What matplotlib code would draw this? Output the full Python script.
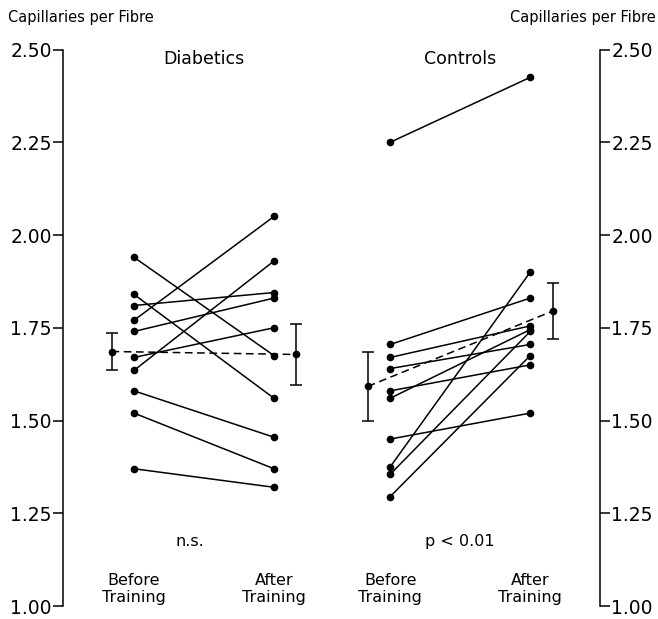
import matplotlib
matplotlib.use("Agg")
import matplotlib.pyplot as plt

# individual subjects, before -> after training
diab_before = [1.94, 1.84, 1.81, 1.77, 1.74, 1.67, 1.635, 1.58, 1.52, 1.37]
diab_after = [1.675, 1.56, 1.845, 2.05, 1.83, 1.75, 1.93, 1.455, 1.37, 1.32]
ctrl_before = [2.25, 1.705, 1.67, 1.64, 1.58, 1.56, 1.45, 1.375, 1.355, 1.295]
ctrl_after = [2.425, 1.83, 1.755, 1.705, 1.65, 1.745, 1.52, 1.90, 1.74, 1.675]

# group means with error bars (before, after)
diab_mean = [1.686, 1.678]
diab_err = [0.05, 0.082]
ctrl_mean = [1.592, 1.795]
ctrl_err = [0.094, 0.075]

yticks = [1.00, 1.25, 1.50, 1.75, 2.00, 2.25, 2.50]
ytick_labels = ["1.00", "1.25", "1.50", "1.75", "2.00", "2.25", "2.50"]

# column positions
xd = [0.0, 1.0]
xc = [1.83, 2.83]
off = 0.16

plt.rcParams['font.family'] = ['DejaVu Sans']
fig = plt.figure(figsize=(6.58, 6.19), dpi=100)
ax = fig.add_axes([0.0957, 0.021, 0.8163, 0.899])

for b, a in zip(diab_before, diab_after):
    ax.plot(xd, [b, a], color='black', lw=1.1, marker='o', ms=4.5)
for b, a in zip(ctrl_before, ctrl_after):
    ax.plot(xc, [b, a], color='black', lw=1.1, marker='o', ms=4.5)

# means
mx_d = [xd[0] - off, xd[1] + off]
mx_c = [xc[0] - off, xc[1] + off]
ax.plot(mx_d, diab_mean, color='black', lw=1.1, ls=(0, (5, 3)))
ax.plot(mx_c, ctrl_mean, color='black', lw=1.1, ls=(0, (5, 3)))
ax.errorbar(mx_d, diab_mean, yerr=diab_err, fmt='o', color='black',
            ms=4.5, capsize=4, elinewidth=1.1, capthick=1.1)
ax.errorbar(mx_c, ctrl_mean, yerr=ctrl_err, fmt='o', color='black',
            ms=4.5, capsize=4, elinewidth=1.1, capthick=1.1)

ax.set_xlim(-0.507, 3.329)
ax.set_ylim(1.0, 2.5)
ax.set_xticks([])
ax.set_yticks(yticks)
ax.set_yticklabels(ytick_labels)
ax.tick_params(axis='y', direction='out', length=7, width=1.1, labelsize=13.5,
               left=True, right=True, labelleft=True, labelright=True, pad=1)
for s in ['top', 'bottom']:
    ax.spines[s].set_visible(False)
for s in ['left', 'right']:
    ax.spines[s].set_linewidth(1.1)

fig.text(0.012, 0.971, "Capillaries per Fibre", fontsize=10.5, va='center')
fig.text(0.997, 0.971, "Capillaries per Fibre", fontsize=10.5, va='center', ha='right')

ax.text(0.5, 2.475, "Diabetics", fontsize=12.5, ha='center', va='center')
ax.text(2.33, 2.475, "Controls", fontsize=12.5, ha='center', va='center')
ax.text(0.4, 1.175, "n.s.", fontsize=11.5, ha='center', va='center')
ax.text(2.33, 1.175, "p < 0.01", fontsize=11.5, ha='center', va='center')

for x, lab in zip([xd[0], xd[1], xc[0], xc[1]], ["Before", "After", "Before", "After"]):
    ax.text(x, 1.045, lab + "\nTraining", fontsize=11.5, ha='center', va='center',
            linespacing=1.15)

fig.savefig("out.png", dpi=100)
